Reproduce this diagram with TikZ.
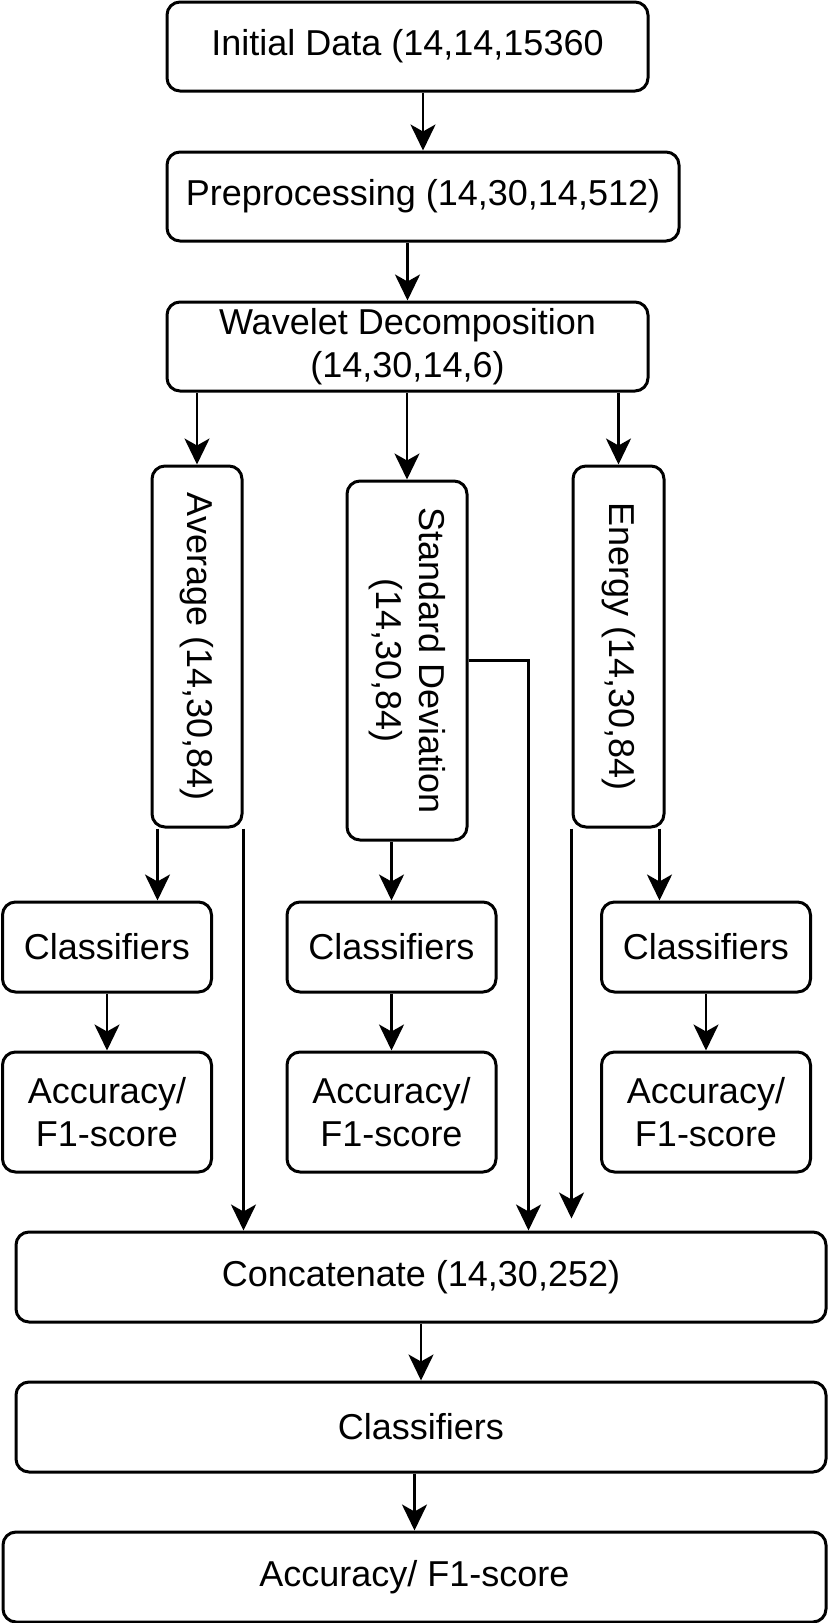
\documentclass[tikz,border=0pt]{standalone}
\usepackage{fontspec}
\usepackage{graphicx}
\setmainfont{Liberation Sans}
\usetikzlibrary{arrows.meta}

\begin{document}
\begin{tikzpicture}[x=1pt,y=-1pt,
        box/.style={draw=black,line width=3pt,rounded corners=13pt,align=center,inner sep=0pt,
            font=\fontsize{36}{43}\selectfont},
        flow/.style={draw=black,line width=2.5pt,-{Stealth[length=26pt,width=25pt,inset=7pt]}}]
        \fill[white] (0,0) rectangle (828,1623);
        \useasboundingbox (0,0) rectangle (828,1623);

        % main chain
        \node[box,minimum width=481,minimum height=89] (init) at (407.5,46.5) {Initial Data (14,14,15360};
        \node[box,minimum width=512,minimum height=89] (prep) at (423,196.5) {Preprocessing (14,30,14,512)};
        \node[box,minimum width=481,minimum height=89] (wave) at (407.5,346.5) {Wavelet Decomposition\\(14,30,14,6)};
        \draw[flow] (prep.north |- init.south) -- (prep.north);
        \draw[flow] (wave.north |- prep.south) -- (wave.north);

        % features
        \node[box,minimum width=90,minimum height=361] (avg) at (197,646.5) {\rotatebox{-90}{Average (14,30,84)}};
        \node[box,minimum width=120,minimum height=359] (std) at (407,660.5) {\rotatebox{-90}{\begin{tabular}{@{}c@{}}Standard Deviation\\(14,30,84)\end{tabular}}};
        \node[box,minimum width=91,minimum height=361] (ener) at (618.5,646.5) {\rotatebox{-90}{Energy (14,30,84)}};
        \foreach \feat in {avg,std,ener}{
            \draw[flow] (\feat.north |- wave.south) -- (\feat.north);
        }

        % per feature classifiers
        \foreach \col/\xc in {1/107,2/391.5,3/706}{
            \node[box,minimum width=209,minimum height=90] (cl\col) at (\xc,947) {Classifiers};
            \node[box,minimum width=209,minimum height=120] (acc\col) at (\xc,1112) {Accuracy/\\F1-score};
            \draw[flow] (cl\col) -- (acc\col);
        }

        % combined
        \node[box,minimum width=810,minimum height=90] (concat) at (421,1277) {Concatenate (14,30,252)};
        \node[box,minimum width=810,minimum height=90] (clall) at (421,1427) {Classifiers};
        \node[box,minimum width=823,minimum height=90] (accall) at (414.5,1577) {Accuracy/ F1-score};
        \draw[flow] (concat) -- (clall);
        \draw[flow] (accall.north |- clall.south) -- (accall.north);

        % feature outputs
        \coordinate (avgout) at ([xshift=7pt]avg.south west);
        \draw[flow] (avgout) -- (avgout |- cl1.north);
        \draw[flow] (avg.south east) -- (avg.south east |- concat.north);
        \draw[flow] (cl2.north |- std.south) -- (cl2.north);
        \coordinate (stdbus) at ([xshift=60pt]std.east);
        \draw[flow] (std.east) -- (stdbus) -- (stdbus |- concat.north);
        \coordinate (enerout) at ([xshift=-6pt]ener.south east);
        \draw[flow] (enerout) -- (enerout |- cl3.north);
        \coordinate (enerend) at (ener.south west |- concat.north);
        \draw[flow] (ener.south west) -- ([yshift=12pt]enerend);
    \end{tikzpicture}
\end{document}
